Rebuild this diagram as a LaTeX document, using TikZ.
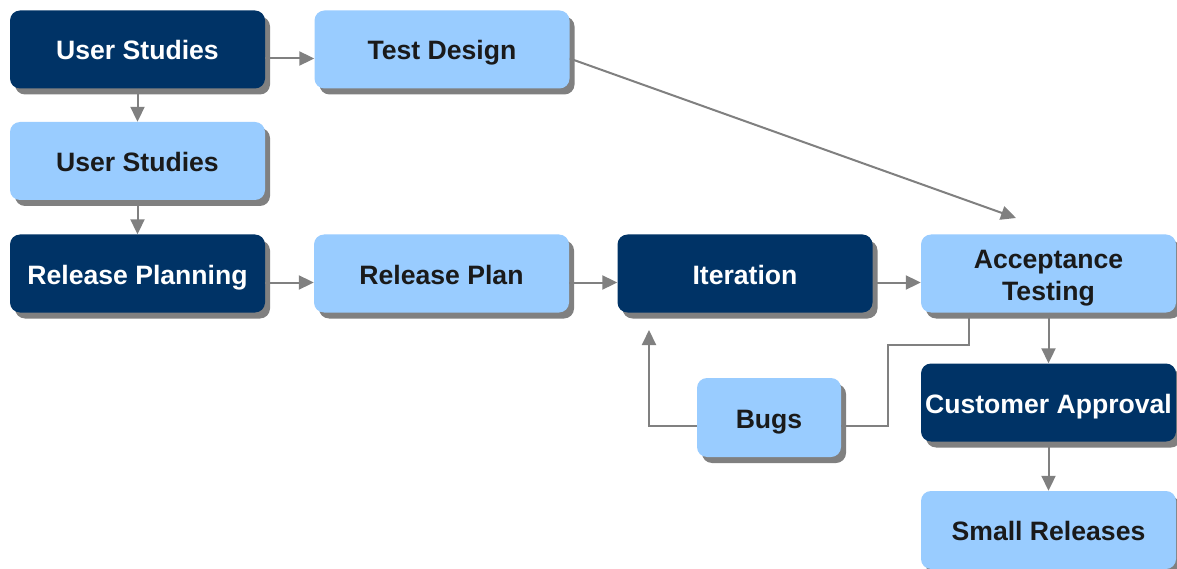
\documentclass[tikz,border=0pt]{standalone}
\usepackage{fontspec}
\setmainfont{Liberation Sans}
\usetikzlibrary{shadows,arrows.meta,calc}
\definecolor{navy}{HTML}{003366}
\definecolor{sky}{HTML}{99CCFF}
\definecolor{linkgray}{HTML}{808080}
\definecolor{ink}{HTML}{1A1A1A}
\tikzset{
  box/.style={rectangle, rounded corners=10pt, minimum width=255pt, minimum height=78pt,
    inner sep=0pt, align=center, font=\fontsize{26.6}{32}\selectfont\bfseries,
    text height=21pt, text depth=0pt,
    drop shadow={shadow xshift=5pt, shadow yshift=-6pt, fill=linkgray, opacity=1}},
  darkbox/.style={box, fill=navy, text=white},
  lightbox/.style={box, fill=sky, text=ink},
  link/.style={draw=linkgray, line width=2pt},
  arrow/.style={link, -{Triangle[length=15pt,width=14pt]}}
}
\begin{document}
\begin{tikzpicture}[x=1pt,y=-1pt]
\clip (0,0) rectangle (1177,569);
\fill[white] (0,0) rectangle (1177,569);

% process boxes
\node[darkbox]  (us1)  at (137.5,49.5)  {User Studies};
\node[lightbox] (td)   at (442,49.5)    {Test Design};
\node[lightbox] (us2)  at (137.5,161)   {User Studies};
\node[darkbox]  (rpl)  at (137.5,273.5) {Release Planning};
\node[lightbox] (rp)   at (441.5,273.5) {Release Plan};
\node[darkbox]  (it)   at (745,273.5)   {Iteration};
\node[lightbox, text height=53pt, text depth=0pt] (at) at (1048.5,273.5) {Acceptance\\Testing};
\node[darkbox]  (ca)   at (1048.5,402.5){Customer Approval};
\node[lightbox] (sr)   at (1048.5,530)  {Small Releases};
\node[lightbox, minimum width=144pt, minimum height=79pt] (bugs) at (769,417.5) {Bugs};

% free ends of the open arrows
\coordinate (tdend) at (1016,218);
\coordinate (itend) at (649,330);

% main flow
\draw[arrow] ($(us1.east)+(0,9)$) -- ($(td.west)+(0,9)$);
\draw[arrow] (us1.south) -- (us2.north);
\draw[arrow] (us2.south) -- (rpl.north);
\draw[arrow] ($(rpl.east)+(0,9)$) -- ($(rp.west)+(0,9)$);
\draw[arrow] ($(rp.east)+(0,9)$) -- ($(it.west)+(0,9)$);
\draw[arrow] ($(it.east)+(0,9)$) -- ($(at.west)+(0,9)$);
\draw[arrow] ($(td.east)+(0,9)$) -- (tdend);
\draw[arrow] (at.south) -- (ca.north);
\draw[arrow] (ca.south) -- (sr.north);

% bug feedback loop
\draw[link] ($(at.south)+(-79.5,0)$) -- ++(0,32) -| (888,426) -- ($(bugs.east)+(0,8.5)$);
\draw[arrow] ($(bugs.west)+(0,8.5)$) -| (itend);
\end{tikzpicture}
\end{document}
